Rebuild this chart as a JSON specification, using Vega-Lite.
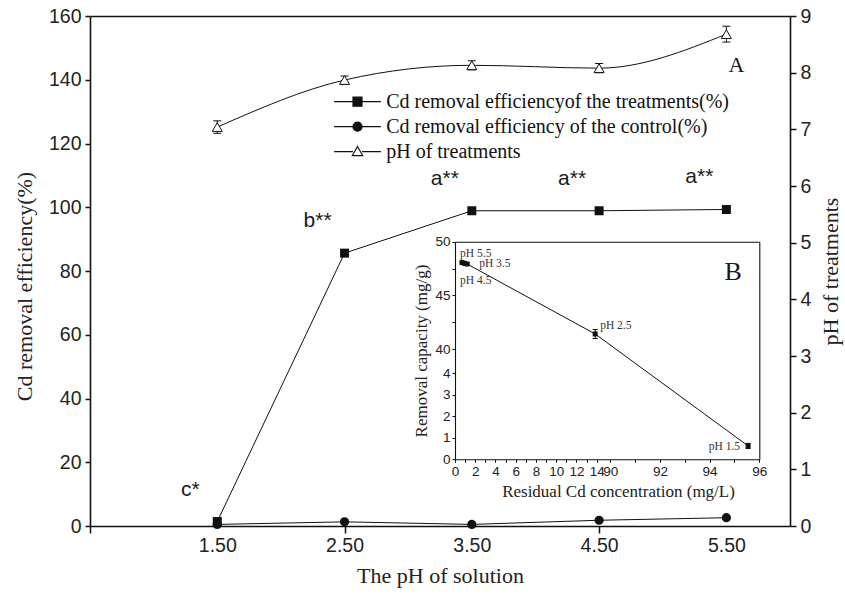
{
  "$schema": "https://vega.github.io/schema/vega-lite/v6.json",
  "width": 700,
  "height": 510,
  "autosize": {"type": "none"},
  "padding": {"left": 90, "top": 16, "right": 55, "bottom": 68},
  "background": "white",
  "config": {
    "view": {"stroke": null},
    "axis": {
      "domainColor": "#111111",
      "domainWidth": 1.6,
      "tickColor": "#111111",
      "tickWidth": 1.5,
      "labelColor": "#222222",
      "labelFont": "Liberation Sans",
      "titleFont": "Liberation Serif",
      "titleFontWeight": "normal",
      "titleColor": "#222222",
      "grid": false,
      "labelOverlap": false,
      "labelFlush": false
    },
    "legend": {
      "orient": "none",
      "legendX": 257.5,
      "legendY": 75.7,
      "title": null,
      "padding": 0,
      "labelFont": "Liberation Serif",
      "labelFontSize": 20,
      "labelColor": "#111111",
      "labelLimit": 600,
      "labelOffset": 18.7,
      "symbolSize": 81,
      "symbolStrokeColor": "#111111",
      "symbolStrokeWidth": 1.2,
      "symbolOpacity": 1,
      "rowPadding": 5
    },
    "text": {"color": "#1a1a1a"}
  },
  "datasets": {
    "removal": [
      {"pH": 1.5, "treat": 1.4, "control": 0.5, "sig": "c*"},
      {"pH": 2.5, "treat": 85.6, "control": 1.3, "sig": "b**"},
      {"pH": 3.5, "treat": 98.9, "control": 0.5, "sig": "a**"},
      {"pH": 4.5, "treat": 98.9, "control": 1.8, "sig": "a**"},
      {"pH": 5.5, "treat": 99.3, "control": 2.6, "sig": "a**"}
    ],
    "phTreat": [
      {"pH": 1.5, "value": 7.04, "lo": 6.93, "hi": 7.15},
      {"pH": 2.5, "value": 7.87, "lo": 7.8, "hi": 7.94},
      {"pH": 3.5, "value": 8.13, "lo": 8.05, "hi": 8.21},
      {"pH": 4.5, "value": 8.08, "lo": 8.0, "hi": 8.16},
      {"pH": 5.5, "value": 8.68, "lo": 8.54, "hi": 8.82}
    ],
    "capacity": [
      {"label": "pH 5.5", "resid": 0.7, "q": 48.05, "lo": 47.95, "hi": 48.15},
      {"label": "pH 4.5", "resid": 0.95, "q": 47.98, "lo": 47.88, "hi": 48.08},
      {"label": "pH 3.5", "resid": 1.2, "q": 47.92, "lo": 47.82, "hi": 48.02},
      {"label": "pH 2.5", "resid": 13.85, "q": 41.4, "lo": 40.98, "hi": 41.82},
      {"label": "pH 1.5", "resid": 95.55, "q": 0.62, "lo": 0.5, "hi": 0.74}
    ],
    "seriesKeys": [
      {"series": "Cd removal efficiencyof the treatments(%)"},
      {"series": "Cd removal efficiency of the control(%)"},
      {"series": "pH of treatments"}
    ]
  },
  "layer": [
    {
      "data": {"name": "removal"},
      "encoding": {
        "x": {
          "field": "pH",
          "type": "quantitative",
          "scale": {"domain": [0.5, 6.0], "nice": false, "zero": false},
          "axis": {
            "orient": "bottom",
            "values": [0.5, 1.5, 2.5, 3.5, 4.5, 5.5],
            "format": ".2f",
            "labelExpr": "datum.value == 0.5 ? '' : datum.label",
            "tickSize": 7,
            "tickOpacity": {"condition": {"test": "datum.value == 0.5 || datum.value == 2.5 || datum.value == 4.5", "value": 1}, "value": 0},
            "labelFontSize": 19.5,
            "labelPadding": 3,
            "title": "The pH of solution",
            "titleFontSize": 22,
            "titlePadding": 11
          }
        }
      },
      "layer": [
        {
          "mark": {"type": "line", "color": "#111111", "strokeWidth": 1},
          "encoding": {
            "y": {
              "field": "control",
              "type": "quantitative",
              "scale": {"domain": [0, 160], "nice": false, "zero": false},
              "axis": {
                "orient": "left",
                "values": [0, 10, 20, 30, 40, 50, 60, 70, 80, 90, 100, 110, 120, 130, 140, 150, 160],
                "labelExpr": "datum.value % 20 ? '' : datum.label",
                "tickSize": 5,
                "labelFontSize": 19.5,
                "labelPadding": 4,
                "title": "Cd removal efficiency(%)",
                "titleFontSize": 22,
                "titlePadding": 12,
                "titleY": 270
              }
            }
          }
        },
        {
          "mark": {"type": "line", "color": "#111111", "strokeWidth": 1},
          "encoding": {"y": {"field": "treat", "type": "quantitative"}}
        },
        {
          "mark": {"type": "point", "shape": "circle", "filled": true, "color": "#111111", "size": 85, "opacity": 1},
          "encoding": {"y": {"field": "control", "type": "quantitative"}}
        },
        {
          "mark": {"type": "point", "shape": "square", "filled": true, "color": "#111111", "size": 81, "opacity": 1},
          "encoding": {"y": {"field": "treat", "type": "quantitative"}}
        },
        {
          "mark": {"type": "text", "font": "Liberation Sans", "fontSize": 21, "dx": -27, "dy": -32},
          "encoding": {"y": {"field": "treat", "type": "quantitative"}, "text": {"field": "sig"}}
        }
      ]
    },
    {
      "data": {"name": "phTreat"},
      "encoding": {
        "x": {
          "field": "pH",
          "type": "quantitative",
          "scale": {"domain": [0.5, 6.0], "nice": false, "zero": false},
          "axis": {"orient": "top", "ticks": false, "labels": false, "title": null}
        }
      },
      "layer": [
        {
          "mark": {"type": "line", "interpolate": "monotone", "color": "#111111", "strokeWidth": 1},
          "encoding": {
            "y": {
              "field": "value",
              "type": "quantitative",
              "scale": {"domain": [0, 9], "nice": false, "zero": false},
              "axis": {
                "orient": "right",
                "values": [0, 0.5, 1, 1.5, 2, 2.5, 3, 3.5, 4, 4.5, 5, 5.5, 6, 6.5, 7, 7.5, 8, 8.5, 9],
                "format": ".0f",
                "labelExpr": "datum.value % 1 ? '' : datum.label",
                "tickSize": 6,
                "labelFontSize": 19.5,
                "labelPadding": 4,
                "title": "pH of treatments",
                "titleFontSize": 22,
                "titleAngle": 270,
                "titleBaseline": "top",
                "titlePadding": 10
              }
            }
          }
        },
        {
          "mark": {"type": "rule", "color": "#111111", "strokeWidth": 1},
          "encoding": {"y": {"field": "lo", "type": "quantitative"}, "y2": {"field": "hi"}}
        },
        {
          "mark": {"type": "tick", "orient": "horizontal", "color": "#111111", "size": 8, "thickness": 1, "opacity": 1},
          "encoding": {"y": {"field": "lo", "type": "quantitative"}}
        },
        {
          "mark": {"type": "tick", "orient": "horizontal", "color": "#111111", "size": 8, "thickness": 1, "opacity": 1},
          "encoding": {"y": {"field": "hi", "type": "quantitative"}}
        },
        {
          "mark": {"type": "point", "shape": "triangle-up", "filled": true, "fill": "white", "stroke": "#111111", "strokeWidth": 1, "size": 100, "opacity": 1},
          "encoding": {"y": {"field": "value", "type": "quantitative"}}
        }
      ]
    },
    {
      "data": {"values": [{"panel": "A"}]},
      "mark": {"type": "text", "font": "Liberation Serif", "fontSize": 22},
      "encoding": {
        "x": {"datum": 5.58, "type": "quantitative", "scale": {"domain": [0.5, 6.0], "nice": false, "zero": false}, "axis": null},
        "y": {"datum": 8.13, "type": "quantitative", "scale": {"domain": [0, 9], "nice": false, "zero": false}, "axis": null},
        "text": {"field": "panel"}
      }
    },
    {
      "data": {"name": "capacity"},
      "encoding": {
        "x": {
          "field": "resid",
          "type": "quantitative",
          "scale": {"domain": [0, 14, 90, 96], "range": [365, 506.7, 520.2, 669.3], "nice": false, "zero": false},
          "axis": {
            "orient": "bottom",
            "offset": -66.7,
            "values": [0, 1, 2, 3, 4, 5, 6, 7, 8, 9, 10, 11, 12, 13, 14, 90, 91, 92, 93, 94, 95, 96],
            "labelExpr": "datum.value % 2 ? '' : datum.label",
            "domainWidth": 1.1,
            "tickWidth": 1,
            "tickSize": 3,
            "labelFontSize": 13.5,
            "labelPadding": 2,
            "title": "Residual Cd concentration (mg/L)",
            "titleFontSize": 17,
            "titlePadding": 6,
            "titleX": 528
          }
        },
        "y": {
          "field": "q",
          "type": "quantitative",
          "scale": {"domain": [0, 4.9, 40, 50], "range": [443.3, 338, 333, 225.7], "nice": false, "zero": false},
          "axis": {
            "orient": "left",
            "offset": -365,
            "values": [0, 1, 2, 3, 4, 40, 42.5, 45, 47.5, 50],
            "labelExpr": "(datum.value == 42.5 || datum.value == 47.5) ? '' : datum.label",
            "domainWidth": 1.1,
            "tickWidth": 1,
            "tickSize": 3,
            "labelFontSize": 13.5,
            "labelPadding": 2,
            "title": "Removal capacity  (mg/g)",
            "titleFontSize": 17,
            "titlePadding": 4
          }
        }
      },
      "layer": [
        {"mark": {"type": "line", "color": "#111111", "strokeWidth": 1}},
        {
          "mark": {"type": "rule", "color": "#111111", "strokeWidth": 1},
          "encoding": {"y": {"field": "lo", "type": "quantitative"}, "y2": {"field": "hi"}}
        },
        {
          "mark": {"type": "tick", "orient": "horizontal", "color": "#111111", "size": 5, "thickness": 1, "opacity": 1},
          "encoding": {"y": {"field": "lo", "type": "quantitative"}}
        },
        {
          "mark": {"type": "tick", "orient": "horizontal", "color": "#111111", "size": 5, "thickness": 1, "opacity": 1},
          "encoding": {"y": {"field": "hi", "type": "quantitative"}}
        },
        {"mark": {"type": "point", "shape": "square", "filled": true, "color": "#111111", "size": 25, "opacity": 1}},
        {
          "transform": [{"filter": "datum.label == 'pH 5.5'"}],
          "mark": {"type": "text", "font": "Liberation Serif", "fontSize": 11.5, "align": "left", "dx": -2, "dy": -9, "color": "#333333"},
          "encoding": {"text": {"field": "label"}}
        },
        {
          "transform": [{"filter": "datum.label == 'pH 3.5'"}],
          "mark": {"type": "text", "font": "Liberation Serif", "fontSize": 11.5, "align": "left", "dx": 12, "dy": 0, "color": "#333333"},
          "encoding": {"text": {"field": "label"}}
        },
        {
          "transform": [{"filter": "datum.label == 'pH 4.5'"}],
          "mark": {"type": "text", "font": "Liberation Serif", "fontSize": 11.5, "align": "left", "dx": -4.5, "dy": 17.5, "color": "#333333"},
          "encoding": {"text": {"field": "label"}}
        },
        {
          "transform": [{"filter": "datum.label == 'pH 2.5'"}],
          "mark": {"type": "text", "font": "Liberation Serif", "fontSize": 11.5, "align": "left", "dx": 5, "dy": -8, "color": "#333333"},
          "encoding": {"text": {"field": "label"}}
        },
        {
          "transform": [{"filter": "datum.label == 'pH 1.5'"}],
          "mark": {"type": "text", "font": "Liberation Serif", "fontSize": 11.5, "align": "right", "dx": -8, "dy": 1, "color": "#333333"},
          "encoding": {"text": {"field": "label"}}
        },
        {
          "data": {"values": [{"mark": "//"}]},
          "mark": {"type": "text", "font": "Liberation Sans", "fontSize": 12, "color": "#111111"},
          "encoding": {"x": {"datum": 77, "type": "quantitative"}, "y": {"datum": 0, "type": "quantitative"}, "text": {"field": "mark"}}
        },
        {
          "data": {"values": [{"mark": "//"}]},
          "mark": {"type": "text", "font": "Liberation Sans", "fontSize": 12, "angle": 90, "color": "#111111"},
          "encoding": {"x": {"datum": 0, "type": "quantitative"}, "y": {"datum": 19, "type": "quantitative"}, "text": {"field": "mark"}}
        }
      ]
    },
    {
      "data": {"values": [{"panel": "B"}]},
      "mark": {"type": "text", "font": "Liberation Serif", "fontSize": 26},
      "encoding": {
        "x": {
          "datum": 94.95,
          "type": "quantitative",
          "scale": {"domain": [0, 14, 90, 96], "range": [365, 506.7, 520.2, 669.3], "nice": false, "zero": false},
          "axis": {"orient": "top", "offset": -225.7, "ticks": false, "labels": false, "title": null, "domainWidth": 1.1}
        },
        "y": {
          "datum": 47.2,
          "type": "quantitative",
          "scale": {"domain": [0, 4.9, 40, 50], "range": [443.3, 338, 333, 225.7], "nice": false, "zero": false},
          "axis": {"orient": "right", "offset": -30.7, "ticks": false, "labels": false, "title": null, "domainWidth": 1.1}
        },
        "text": {"field": "panel"}
      }
    },
    {
      "data": {"name": "seriesKeys"},
      "mark": {"type": "point", "filled": true, "opacity": 0, "strokeWidth": 1.2},
      "encoding": {
        "shape": {
          "field": "series",
          "type": "nominal",
          "scale": {
            "domain": ["Cd removal efficiencyof the treatments(%)", "Cd removal efficiency of the control(%)", "pH of treatments"],
            "range": [
              "M-5.2,0H-1M1,0H5.2M-1,-1H1V1H-1Z",
              "M-5.2,0H-1M1,0H5.2M-1,0A1,1,0,1,1,1,0A1,1,0,1,1,-1,0Z",
              "M-5.2,0H-1M1,0H5.2M0,-1.15L1.15,0.85H-1.15Z"
            ]
          }
        },
        "fill": {
          "field": "series",
          "type": "nominal",
          "scale": {
            "domain": ["Cd removal efficiencyof the treatments(%)", "Cd removal efficiency of the control(%)", "pH of treatments"],
            "range": ["#111111", "#111111", "white"]
          }
        },
        "stroke": {
          "field": "series",
          "type": "nominal",
          "scale": {
            "domain": ["Cd removal efficiencyof the treatments(%)", "Cd removal efficiency of the control(%)", "pH of treatments"],
            "range": ["#111111", "#111111", "#111111"]
          }
        }
      }
    }
  ],
  "resolve": {
    "scale": {"x": "independent", "y": "independent"},
    "axis": {"x": "independent", "y": "independent"}
  }
}
